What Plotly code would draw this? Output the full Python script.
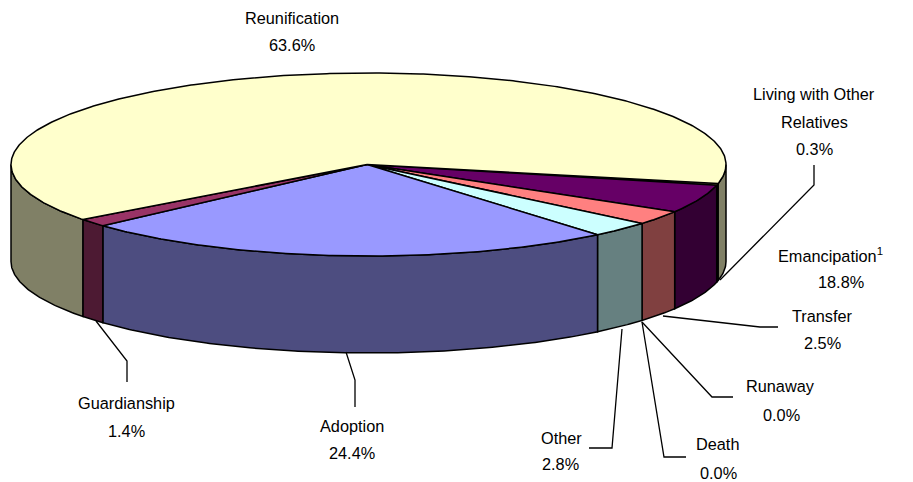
import math
import plotly.graph_objects as go

# Data
categories = ["Living with Other Relatives", "Emancipation", "Transfer", "Runaway", "Death",
              "Other", "Adoption", "Guardianship", "Reunification"]
slice_values = [0.3, 5.0, 2.5, 0.0, 0.0, 2.8, 24.4, 1.4, 63.6]
printed_labels = ["0.3%", "18.8%", "2.5%", "0.0%", "0.0%", "2.8%", "24.4%", "1.4%", "63.6%"]
top_colors = ["#FFFF99", "#660066", "#FF8080", "#0066CC", "#CCCCFF", "#CCFFFF", "#9999FF", "#993366", "#FFFFCC"]
side_colors = ["#80804D", "#330033", "#804040", "#003366", "#666680", "#668080", "#4D4D80", "#4D1A33", "#808066"]

# Geometry of the projected pie
CX, CY, RX, RY, DEPTH = 368.5, 164.5, 357.5, 91.5, 97
START_DEG = 12.0

# name-line positions: (x centre, y centre) per printed line
label_lines = {
    "Living with Other Relatives": [("Living with Other", 814, 94), ("Relatives", 814, 122), ("0.3%", 814, 149)],
    "Emancipation": [("Emancipation<sup>1</sup>", 830, 255), ("18.8%", 841, 282)],
    "Transfer": [("Transfer", 822, 316), ("2.5%", 822, 343)],
    "Runaway": [("Runaway", 780, 386), ("0.0%", 781, 415)],
    "Death": [("Death", 717, 444), ("0.0%", 718, 473)],
    "Other": [("Other", 561, 438), ("2.8%", 560, 464)],
    "Adoption": [("Adoption", 352, 426), ("24.4%", 352, 453)],
    "Guardianship": [("Guardianship", 126, 403), ("1.4%", 126, 431)],
    "Reunification": [("Reunification", 292, 18), ("63.6%", 292, 45)],
}
leaders = [
    [(814, 165), (814, 185), (720, 280)],
    [(778, 327), (760, 327), (663, 316)],
    [(733, 397), (712, 397), (642, 322)],
    [(686, 457), (664, 457), (642, 322)],
    [(589, 448), (612, 448), (622, 329)],
    [(355, 407), (355, 380), (346, 352)],
    [(127, 382), (127, 361), (96, 321)],
]
LINE_W = 1.5
FONT = "Liberation Sans, Arial, sans-serif"
FONT_SIZE = 16.3


def rim(t_deg, drop=0.0):
    t = math.radians(t_deg)
    return CX + RX * math.cos(t), CY + RY * math.sin(t) + drop


def arc(a, b, drop=0.0):
    n = max(2, int(abs(b - a) * 2) + 1)
    return [rim(a + (b - a) * i / (n - 1), drop) for i in range(n)]


fig = go.Figure()


def poly(points, color):
    fig.add_trace(go.Scatter(
        x=[p[0] for p in points], y=[p[1] for p in points], mode="lines", fill="toself",
        fillcolor=color, line=dict(color="black", width=LINE_W), hoverinfo="skip", showlegend=False))


# cumulative angles from the values
total = sum(slice_values)
spans = []
angle = START_DEG
for v in slice_values:
    end = angle + v / total * 360.0
    spans.append((angle, end))
    angle = end

# walls: only the part of the rim facing the viewer (0 to 180 degrees, and 360 to 540)
for (a, b), c in zip(spans, side_colors):
    if b <= a:
        continue
    for lo, hi in ((0, 180), (360, 540)):
        s, e = max(a, lo), min(b, hi)
        if e > s:
            poly(arc(s, e) + arc(e, s, DEPTH) + [rim(s)], c)

# top faces
for (a, b), c in zip(spans, top_colors):
    if b <= a:
        continue
    poly([(CX - 1.5, CY)] + arc(a, b) + [(CX - 1.5, CY)], c)

# leader lines
for seg in leaders:
    fig.add_trace(go.Scatter(x=[p[0] for p in seg], y=[p[1] for p in seg], mode="lines",
                             line=dict(color="black", width=1.3), hoverinfo="skip", showlegend=False))

annotations = []
for cat in categories:
    for text, x, y in label_lines[cat]:
        annotations.append(dict(x=x, y=y, xref="x", yref="y", text=text, showarrow=False,
                                xanchor="center", yanchor="middle",
                                font=dict(family=FONT, size=FONT_SIZE, color="black")))

fig.update_layout(
    width=913, height=482, margin=dict(l=0, r=0, t=0, b=0),
    paper_bgcolor="white", plot_bgcolor="white", showlegend=False,
    xaxis=dict(range=[0, 913], visible=False, fixedrange=True),
    yaxis=dict(range=[482, 0], visible=False, fixedrange=True),
    annotations=annotations,
)
fig.write_html("out.html", config={"displayModeBar": False},
               post_script="document.body.style.margin='0';document.body.style.overflow='hidden';")
